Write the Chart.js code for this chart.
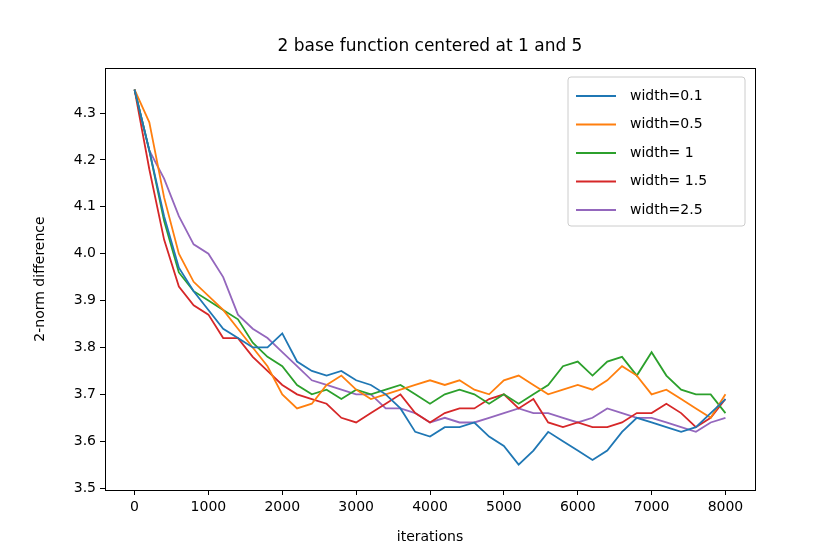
<!DOCTYPE html>
<html>
<head>
<meta charset="utf-8">
<script src="https://cdn.jsdelivr.net/npm/chart.js@4/dist/chart.umd.min.js"></script>
<style>body{margin:0;background:#fff}</style>
</head>
<body>
<canvas id="c" width="840" height="560"></canvas>
<script>
const iterations = [0,200,400,600,800,1000,1200,1400,1600,1800,2000,2200,2400,2600,2800,3000,3200,3400,3600,3800,4000,4200,4400,4600,4800,5000,5200,5400,5600,5800,6000,6200,6400,6600,6800,7000,7200,7400,7600,7800,8000];
const labels = ['width=0.1','width=0.5','width= 1','width= 1.5','width=2.5'];
const colors = ['#1f77b4','#ff7f0e','#2ca02c','#d62728','#9467bd'];
const w01 = [4.35,4.22,4.08,3.97,3.92,3.88,3.84,3.82,3.80,3.80,3.83,3.77,3.75,3.74,3.75,3.73,3.72,3.70,3.67,3.62,3.61,3.63,3.63,3.64,3.61,3.59,3.55,3.58,3.62,3.60,3.58,3.56,3.58,3.62,3.65,3.64,3.63,3.62,3.63,3.66,3.69];
const w05 = [4.35,4.28,4.12,4.00,3.94,3.91,3.88,3.84,3.80,3.76,3.70,3.67,3.68,3.72,3.74,3.71,3.69,3.70,3.71,3.72,3.73,3.72,3.73,3.71,3.70,3.73,3.74,3.72,3.70,3.71,3.72,3.71,3.73,3.76,3.74,3.70,3.71,3.69,3.67,3.65,3.70];
const w1 = [4.35,4.22,4.07,3.96,3.92,3.90,3.88,3.86,3.81,3.78,3.76,3.72,3.70,3.71,3.69,3.71,3.70,3.71,3.72,3.70,3.68,3.70,3.71,3.70,3.68,3.70,3.68,3.70,3.72,3.76,3.77,3.74,3.77,3.78,3.74,3.79,3.74,3.71,3.70,3.70,3.66];
const w15 = [4.35,4.18,4.03,3.93,3.89,3.87,3.82,3.82,3.78,3.75,3.72,3.70,3.69,3.68,3.65,3.64,3.66,3.68,3.70,3.66,3.64,3.66,3.67,3.67,3.69,3.70,3.67,3.69,3.64,3.63,3.64,3.63,3.63,3.64,3.66,3.66,3.68,3.66,3.63,3.65,3.69];
const w25 = [4.35,4.22,4.16,4.08,4.02,4.00,3.95,3.87,3.84,3.82,3.79,3.76,3.73,3.72,3.71,3.70,3.70,3.67,3.67,3.66,3.64,3.65,3.64,3.64,3.65,3.66,3.67,3.66,3.66,3.65,3.64,3.65,3.67,3.66,3.65,3.65,3.64,3.63,3.62,3.64,3.65];
const series = [w01,w05,w1,w15,w25];
const xTicks = [0,1000,2000,3000,4000,5000,6000,7000,8000];
const yTicks = [3.5,3.6,3.7,3.8,3.9,4.0,4.1,4.2,4.3];

const font = { family: 'DejaVu Sans', size: 14 };

const frame = {
  id: 'frame',
  afterDraw(chart) {
    const { ctx, chartArea: a } = chart;
    ctx.save();
    ctx.strokeStyle = '#000'; ctx.lineWidth = 1;
    ctx.strokeRect(a.left + 0.5, a.top + 0.5, a.right - a.left, a.bottom - a.top);
    ctx.fillStyle = '#000';
    ctx.font = '17px DejaVu Sans';
    ctx.textAlign = 'center'; ctx.textBaseline = 'middle';
    ctx.fillText('2 base function centered at 1 and 5', (a.left + a.right) / 2, 47);
    // legend box
    const bx = a.right - 187, by = a.top + 9, bw = 177, bh = 149;
    ctx.fillStyle = 'rgba(255,255,255,0.8)';
    ctx.strokeStyle = '#ccc';
    ctx.beginPath(); ctx.roundRect(bx, by, bw, bh, 3); ctx.fill(); ctx.stroke();
    ctx.font = '14px DejaVu Sans'; ctx.textAlign = 'left';
    labels.forEach((l, i) => {
      const y = by + 19 + i * 28.5;
      ctx.strokeStyle = colors[i]; ctx.lineWidth = 2;
      ctx.beginPath(); ctx.moveTo(bx + 8, y); ctx.lineTo(bx + 48, y); ctx.stroke();
      ctx.fillStyle = '#000'; ctx.fillText(l, bx + 62, y);
    });
    ctx.restore();
  }
};

new Chart(document.getElementById('c'), {
  type: 'line',
  data: {
    datasets: series.map((s, i) => ({
      label: labels[i],
      data: s.map((v, j) => ({ x: iterations[j], y: v })),
      borderColor: colors[i], borderWidth: 1.8, pointRadius: 0, tension: 0, fill: false
    }))
  },
  options: {
    responsive: false, animation: false, devicePixelRatio: 1,
    layout: { padding: { top: 68, right: 85, left: 30, bottom: 12 } },
    plugins: { legend: { display: false }, title: { display: false }, tooltip: { enabled: false } },
    scales: {
      x: {
        type: 'linear', min: -400, max: 8400,
        afterBuildTicks: s => { s.ticks = xTicks.map(v => ({ value: v })); },
        afterFit: s => { s.height = 58; },
        grid: { drawOnChartArea: false, color: '#000', tickLength: 5 },
        border: { display: false },
        ticks: { color: '#000', font, maxRotation: 0, padding: 4, callback: v => String(v) },
        title: { display: true, text: 'iterations', color: '#000', font, padding: 2 }
      },
      y: {
        min: 3.496, max: 4.396,
        afterBuildTicks: s => { s.ticks = yTicks.map(v => ({ value: v })); },
        afterFit: s => { s.width = 75; },
        grid: { drawOnChartArea: false, color: '#000', tickLength: 5 },
        border: { display: false },
        ticks: { color: '#000', font, padding: 4, callback: v => v.toFixed(1) },
        title: { display: true, text: '2-norm difference', color: '#000', font, padding: 2 }
      }
    }
  },
  plugins: [frame]
});
</script>
</body>
</html>
